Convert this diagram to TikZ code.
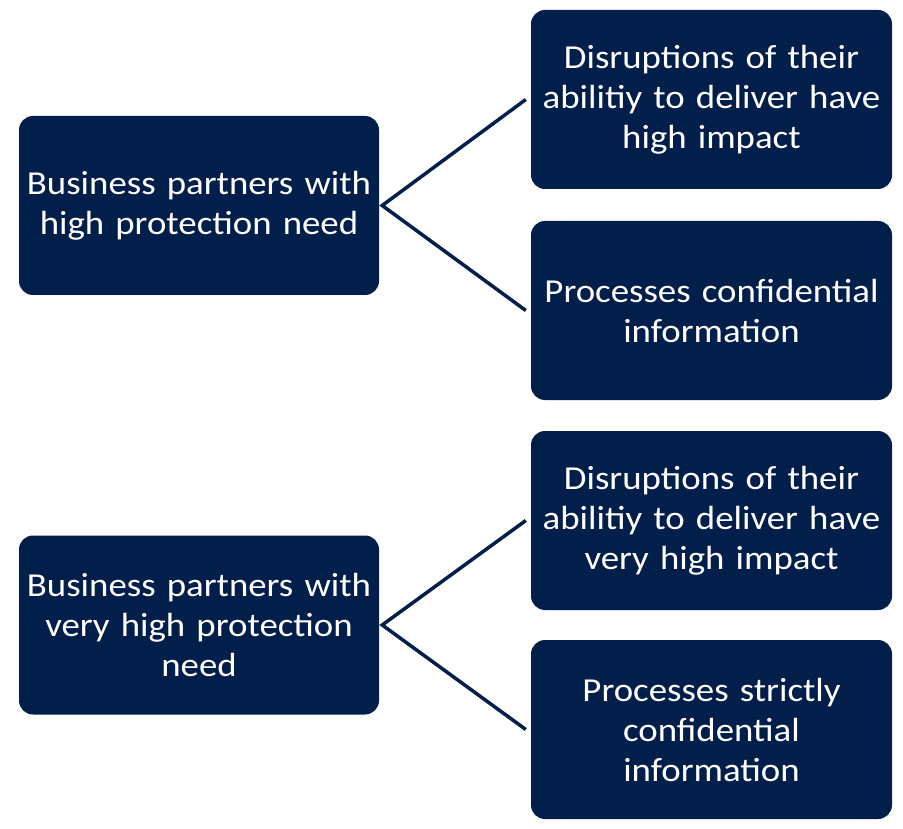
\documentclass[tikz,border=0pt]{standalone}
\usepackage{fontspec}
\setmainfont{Carlito}[FakeStretch=1.1]
\definecolor{navy}{RGB}{2,30,74}
\begin{document}
\begin{tikzpicture}[x=1pt,y=-1pt,
  box/.style={fill=navy,draw=none,rounded corners=14pt,text=white,align=center,
    inner sep=0pt,font=\fontsize{33.5}{40}\selectfont},
  lbox/.style={box,minimum width=360pt,minimum height=179pt,text width=356pt},
  rbox/.style={box,minimum width=361pt,minimum height=179pt,text width=357pt},
  conn/.style={draw=navy,line width=3.5pt}]
\useasboundingbox (0,0) rectangle (903,829);
\node[lbox] (L1) at (199,205.5) {Business partners with\\high protection need};
\node[lbox] (L2) at (199,625) {Business partners with\\very high protection\\need};
\node[rbox] (R1) at (711.5,99.5) {Disruptions of their\\abilitiy to deliver have\\high impact};
\node[rbox] (R2) at (711.5,310.5) {Processes confidential\\information};
\node[rbox] (R3) at (711.5,520.5) {Disruptions of their\\abilitiy to deliver have\\very high impact};
\node[rbox] (R4) at (711.5,729.5) {Processes strictly\\confidential\\information};
\draw[conn] ([xshift=-5pt]R1.west) -- ([xshift=3pt]L1.east) -- ([xshift=-5pt]R2.west);
\draw[conn] ([xshift=-5pt]R3.west) -- ([xshift=3pt]L2.east) -- ([xshift=-5pt]R4.west);
\end{tikzpicture}
\end{document}
